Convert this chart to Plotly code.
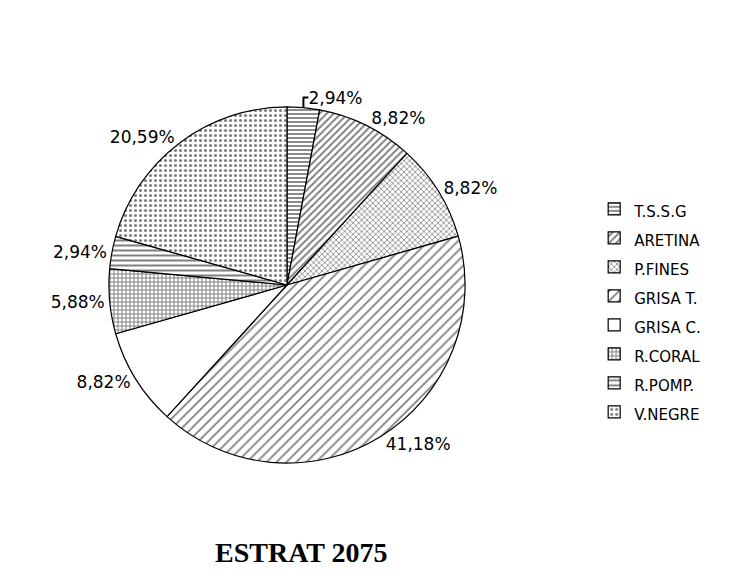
import plotly.graph_objects as go

labels = ["T.S.S.G", "ARETINA", "P.FINES", "GRISA T.", "GRISA C.", "R.CORAL", "R.POMP.", "V.NEGRE"]
percents = [2.94, 8.82, 8.82, 41.18, 8.82, 5.88, 2.94, 20.59]
title_text = "ESTRAT 2075"

pct_text = [f"{v:.2f}".replace(".", ",") + "%" for v in percents]
legend_labels = [f"<span style='font-size:15px'>{l}</span>" for l in labels]

shapes = ["-", "/", "x", "/", "", "+", "-", "."]
sizes = [4, 5, 4, 7, 8, 4, 5, 5]
solidity = [0.45, 0.4, 0.35, 0.25, 0.3, 0.45, 0.4, 0.3]

fig = go.Figure(go.Pie(
    labels=legend_labels,
    values=percents,
    text=pct_text,
    texttemplate="%{text}",
    textinfo="text",
    textposition="outside",
    sort=False,
    direction="clockwise",
    rotation=0,
    hole=0,
    marker=dict(
        colors=["white"] * len(labels),
        line=dict(color="black", width=1.2),
        pattern=dict(shape=shapes, size=sizes, solidity=solidity,
                     fgcolor="black", bgcolor="white", fillmode="overlay"),
    ),
    outsidetextfont=dict(family="DejaVu Sans", size=17, color="black"),
    domain=dict(x=[0.136, 0.616], y=[0.222, 0.831]),
    showlegend=True,
))

fig.update_layout(
    width=742, height=585,
    margin=dict(l=0, r=0, t=0, b=0),
    paper_bgcolor="white", plot_bgcolor="white",
    legend=dict(x=0.79, y=0.69, xanchor="left", yanchor="top",
                font=dict(family="DejaVu Sans", size=20, color="black"),
                bgcolor="rgba(0,0,0,0)"),
    annotations=[dict(text=f"<b>{title_text}</b>", x=0.395, y=0.04, xref="paper", yref="paper",
                      showarrow=False, font=dict(family="Liberation Serif", size=28, color="black"))],
)

fig.write_html("out.html")
